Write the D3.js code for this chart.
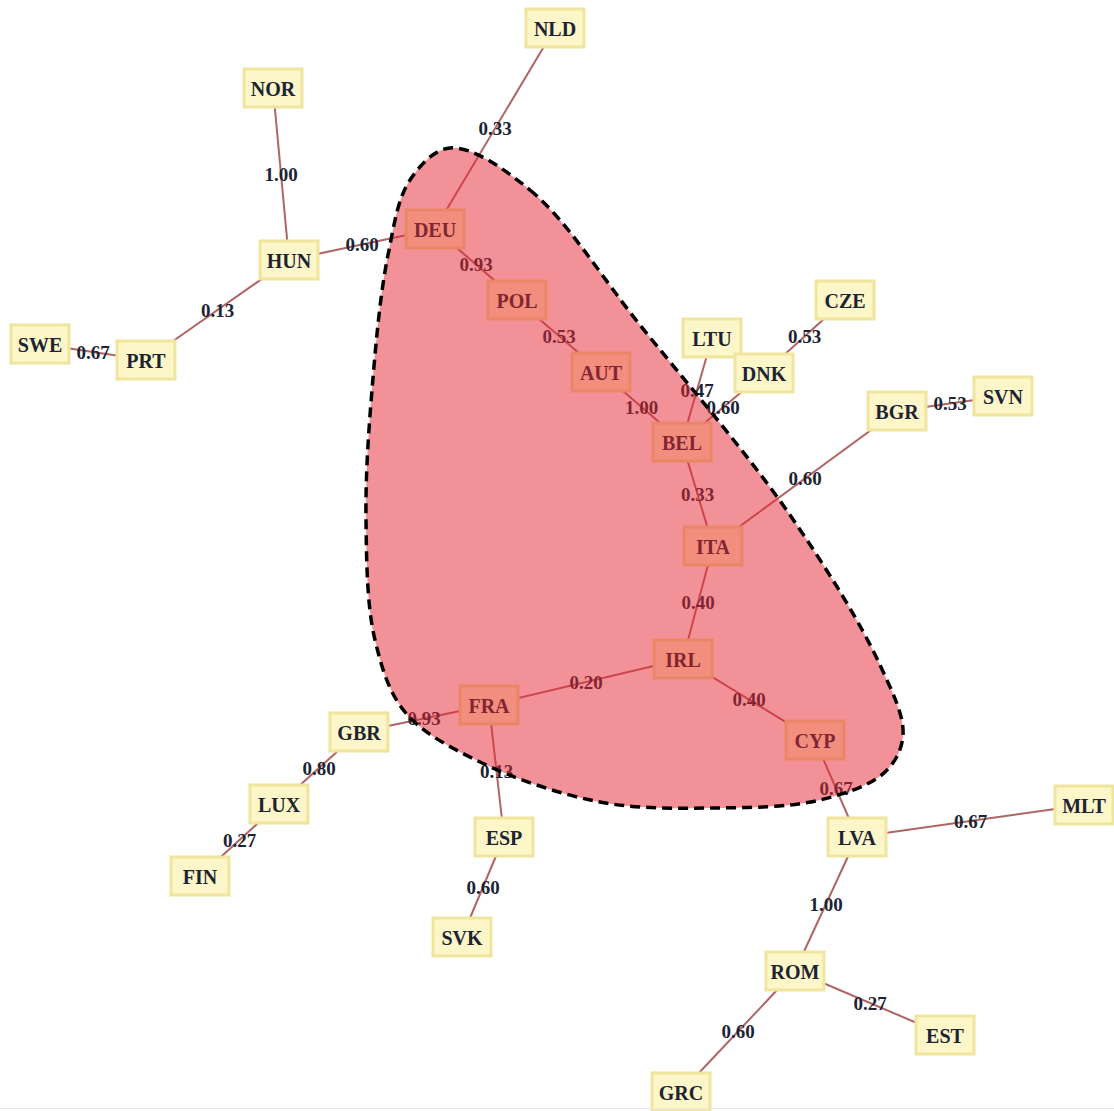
<!DOCTYPE html>
<html>
<head>
<meta charset="utf-8">
<script src="https://cdn.jsdelivr.net/npm/d3@7"></script>
<style>
  body { margin: 0; background: #fff; }
  svg { display: block; }
</style>
</head>
<body>
<div class="chart"></div>
<script>
var width = 1114;
var height = 1111;

// country codes and their layout positions
let codes = ['NLD','NOR','HUN','DEU','POL','AUT','BEL','LTU','DNK','CZE','BGR','SVN','ITA','IRL','FRA','CYP',
             'GBR','LUX','FIN','ESP','SVK','LVA','MLT','ROM','EST','GRC','SWE','PRT'];
let layoutX = [555, 273, 289, 435, 517, 601, 682, 712, 764, 845, 897, 1003, 713, 683, 489, 815,
               359, 279, 200, 504, 462, 857, 1084, 795, 945, 681, 40, 146];
let layoutY = [28, 88, 260, 229, 300, 372, 442, 338, 373, 300, 411, 396, 546, 659, 705, 740,
               732, 804, 876, 837, 937, 837, 805, 971, 1035, 1092, 344, 360];

// links and their weights
let sources = ['NLD','NOR','HUN','HUN','SWE','DEU','POL','AUT','BEL','BEL','DNK','BEL','ITA','BGR','ITA',
               'IRL','IRL','FRA','FRA','GBR','LUX','ESP','CYP','LVA','LVA','ROM','ROM'];
let targets = ['DEU','HUN','DEU','PRT','PRT','POL','AUT','BEL','LTU','DNK','CZE','ITA','BGR','SVN','IRL',
               'FRA','CYP','GBR','ESP','LUX','FIN','SVK','LVA','MLT','ROM','EST','GRC'];
let weights = [0.33, 1.00, 0.60, 0.13, 0.67, 0.93, 0.53, 1.00, 0.47, 0.60, 0.53, 0.33, 0.60, 0.53, 0.40,
               0.20, 0.40, 0.93, 0.13, 0.80, 0.27, 0.60, 0.67, 0.67, 1.00, 0.27, 0.60];

// outline of the highlighted community
let hullX = [450, 530, 640, 790, 880, 903, 885, 820, 710, 600, 480, 405, 375, 366, 372, 388, 410];
let hullY = [148, 190, 325, 515, 665, 735, 772, 800, 808, 802, 762, 712, 640, 520, 390, 255, 180];

let nodes = codes.map((c, i) => ({id: c, x: layoutX[i], y: layoutY[i]}));
let byId = {};
nodes.forEach(n => byId[n.id] = n);
let links = sources.map((s, i) => ({source: byId[s], target: byId[targets[i]], weight: weights[i]}));
let hull = hullX.map((x, i) => [x, hullY[i]]);

let xScale = d3.scaleLinear().domain([0, 1114]).range([0, width]);
let yScale = d3.scaleLinear().domain([0, 1111]).range([0, height]);

let svg = d3.select('.chart')
  .append('svg')
  .attr('width', width)
  .attr('height', height);

// links
svg.append('g')
  .selectAll('line')
  .data(links)
  .enter()
  .append('line')
  .attr('x1', d => xScale(d.source.x))
  .attr('y1', d => yScale(d.source.y))
  .attr('x2', d => xScale(d.target.x))
  .attr('y2', d => yScale(d.target.y))
  .style('stroke', '#b06464')
  .style('stroke-width', 2);

// weight labels at link midpoints
svg.append('g')
  .selectAll('text')
  .data(links)
  .enter()
  .append('text')
  .attr('x', d => xScale((d.source.x + d.target.x) / 2))
  .attr('y', d => yScale((d.source.y + d.target.y) / 2))
  .attr('dy', '0.35em')
  .style('text-anchor', 'middle')
  .style('font-family', '"Liberation Serif", "Times New Roman", serif')
  .style('font-weight', 'bold')
  .style('font-size', '19px')
  .style('fill', '#1c2433')
  .text(d => d.weight.toFixed(2));

// nodes
let nodeG = svg.append('g')
  .selectAll('g')
  .data(nodes)
  .enter()
  .append('g')
  .attr('transform', d => `translate(${xScale(d.x)}, ${yScale(d.y)})`);

nodeG.append('rect')
  .attr('x', -29)
  .attr('y', -19)
  .attr('width', 58)
  .attr('height', 38)
  .style('fill', '#fcf6c8')
  .style('stroke', '#efe59c')
  .style('stroke-width', 3);

nodeG.append('text')
  .attr('y', 1)
  .attr('dy', '0.35em')
  .style('text-anchor', 'middle')
  .style('font-family', '"Liberation Serif", "Times New Roman", serif')
  .style('font-weight', 'bold')
  .style('font-size', '20px')
  .style('fill', '#1c2433')
  .text(d => d.id);

// community overlay
let hullLine = d3.line()
  .x(d => xScale(d[0]))
  .y(d => yScale(d[1]))
  .curve(d3.curveCatmullRomClosed.alpha(0.5));

svg.append('path')
  .attr('d', hullLine(hull))
  .style('fill', 'rgba(229, 37, 49, 0.5)')
  .style('stroke', '#000')
  .style('stroke-width', 3.5)
  .style('stroke-dasharray', '10,6');

// faint frame line at the bottom
svg.append('line')
  .attr('x1', 0).attr('x2', width)
  .attr('y1', height - 2.5).attr('y2', height - 2.5)
  .style('stroke', '#e6e6e6')
  .style('stroke-width', 1);
</script>
</body>
</html>
